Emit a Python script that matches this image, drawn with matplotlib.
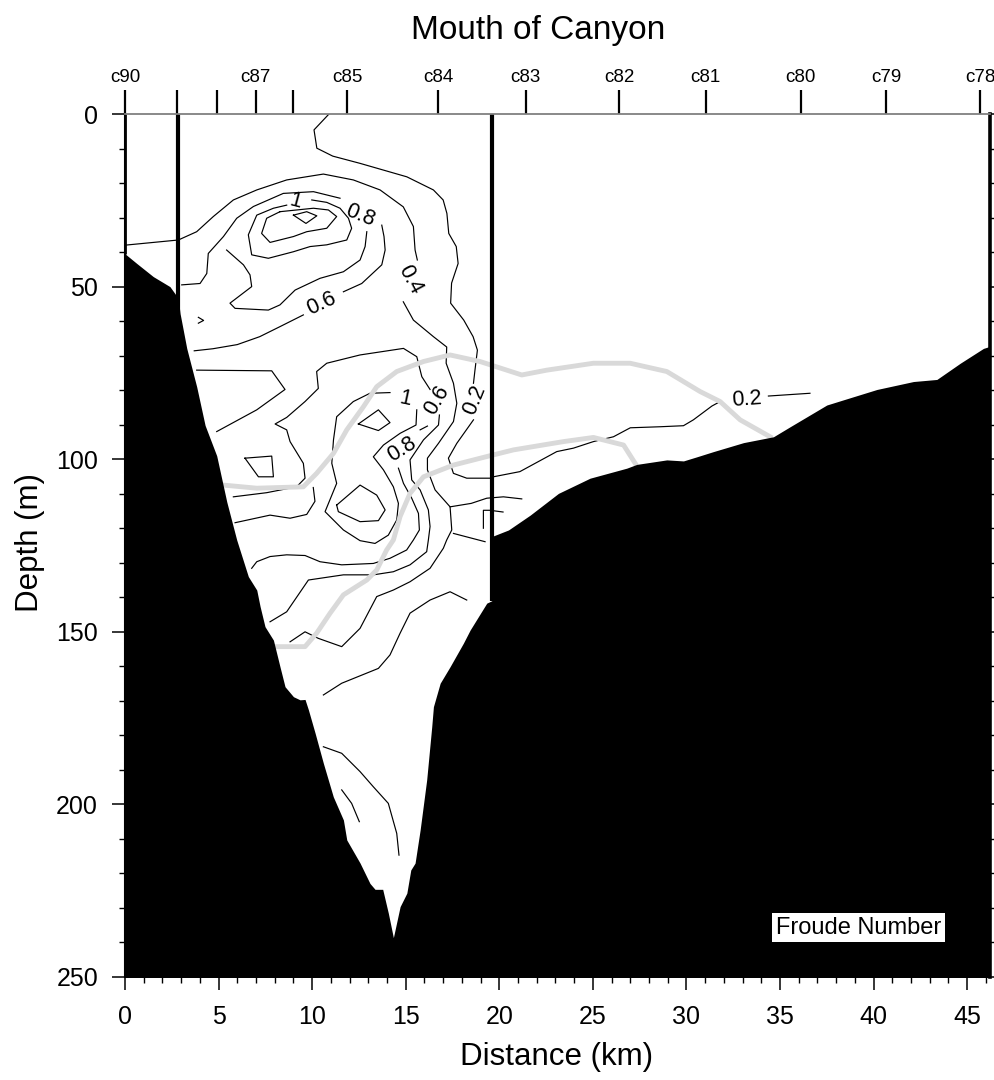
import numpy as np
import matplotlib
matplotlib.use("Agg")
import matplotlib.pyplot as plt

plt.rcParams['font.family'] = ['Liberation Sans', 'DejaVu Sans']

nan = np.nan

# bathymetry (distance km, depth m)
bathy_x = [0, 0.63, 1.51, 2.4, 2.85, 2.94, 3.3, 3.83, 4.28, 4.9, 5.44, 5.97, 6.59, 7.04, 7.22, 7.48,
           7.93, 8.28, 8.55, 9.0, 9.35, 9.62, 9.8, 10.16, 10.6, 11.13, 11.67, 11.85, 12.56, 13.09,
           13.36, 13.77, 14.07, 14.34, 14.7, 15.06, 15.27, 15.5, 15.77, 16.12, 16.39, 16.48, 16.84,
           17.37, 18.08, 18.44, 19.33, 19.6, 19.6, 20.49, 21.65, 23.16, 24.85, 26.81, 27.35, 28.95,
           29.84, 30.56, 31.44, 33.05, 34.65, 35.54, 37.5, 38.39, 40.18, 42.13, 43.38, 44.63, 45.87, 46.4]
bathy_d = [40.5, 43.3, 47.1, 50, 53.4, 57.7, 67.9, 79, 90.2, 99, 112.4, 123.4, 134, 137.9, 142.7, 148.5,
           152.4, 160.1, 165.9, 168.8, 169.7, 169.6, 172.6, 179.4, 188.1, 197.8, 204.5, 210.3, 217, 222.9,
           224.6, 224.6, 231.5, 238.6, 229.6, 225.7, 219, 217, 207.4, 192.9, 177.5, 171.7, 164.9,
           160.1, 153.3, 149.5, 141.7, 141, 122.4, 120.5, 116.2, 109.9, 105.5, 102.6, 101.5, 100.2,
           100.5, 99.3, 97.8, 95.2, 93.5, 90.6, 84.3, 82.8, 79.8, 77.5, 76.9, 72.2, 67.9, 67]

# stations along the top
station_x = [0, 2.8, 4.93, 6.99, 9.0, 11.88, 16.74, 21.41, 26.42, 31.03, 36.1, 40.68, 45.7]
station_lbl = ['c90', '', '', 'c87', '', 'c85', 'c84', 'c83', 'c82', 'c81', 'c80', 'c79', 'c78']

# vertical cast lines (x, bottom depth)
cast_x = [2.85, 19.6]
cast_bottom = [58, 141]

# Froude number contour traces (nan = gap for label)
c02_x = [10.9, 10.1, 10.25, 11.1, 12.56, 15.06, 16.48, 17.0, 17.2, 17.3, 17.7, 17.8, 17.45, 17.4, 18.1,
         18.6, 18.83, 18.7, 18.62, nan, 18.62, 17.73, 17.28, 17.55, 18.26, 19.5, 19.68, 21.1, 23.07,
         23.96, 25.03, 26.1, 27.0, 28.59, 29.84, 30.37, 31.36, 31.8, nan, 34.38, 36.6]
c02_d = [0, 4.6, 9.9, 12.2, 14.3, 18.2, 22, 24.9, 28.8, 34.6, 38.4, 43.3, 49, 54.8, 59.7,
         64.5, 68.4, 74.2, 78, nan, 88.6, 95.4, 99.7, 104.1, 105.5, 105.5, 105.1, 103.6, 97.8,
         96.8, 94.9, 93.5, 90.9, 90.6, 90.3, 88.6, 84.6, 83.3, nan, 81.7, 80.9]

c04_x = [0, 2.85, 3.83, 4.72, 5.79, 7.04, 8.64, 10.6, 12.2, 13.63, 14.87, 15.41, 15.5, 15.62, nan,
         14.87, 15.41, 16.48, 17.19, 17.16, 17.55, 17.73, 17.55, 16.75, 16.16, 16.16, 16.57, 17.37,
         17.46, 17.19, 17.01, 16.3, 15.23, 14.34, 13.45, 12.56, 11.58, 10.33, 9.62, 8.82]
c04_d = [38, 36.5, 34.1, 29.7, 24.9, 22, 19.1, 17.4, 19.1, 22, 26.9, 32.6, 39.4, 42.3, nan,
         54.4, 59.7, 64.5, 67.5, 72.2, 78, 83.8, 89.1, 95.4, 99.7, 103.1, 108.9, 113.8,
         120.5, 123.4, 125.8, 131.6, 135.5, 137.9, 139.8, 149, 154.3, 151.9, 150, 152.9]

c06_x = [3.03, 4.01, 4.37, 4.45, 5.26, 5.97, 6.86, 8.46, 10.07, 11.49, nan, 13.72, 13.84, 13.9, 13.72,
         12.65, 11.67, nan, 9.53, 8.28, 7.2, 6.0, 4.7, 3.7]
c06_d = [49.5, 49.1, 46.2, 40.4, 35.5, 30.2, 26.8, 23.0, 22.5, 24.4, nan, 32.2, 35.5, 39.4, 43.7,
         49.1, 51.5, nan, 58.2, 61.6, 64.5, 66.8, 68.0, 68.6]

c08_x = [12.92, 12.83, 12.56, 11.67, 10.42, 9.09, 8.28, 7.66, 5.88, 5.61, 6.77, 6.68, 6.33, 5.43]
c08_d = [34.1, 38.4, 42.3, 45.7, 47.6, 51.0, 55.3, 56.8, 56.3, 54.8, 50.0, 46.6, 43.7, 39.4]

c10_x = [9.98, 10.78, 11.49, 11.94, 12.11, 11.85, 10.78, 9.89, 9.0, 7.66, 6.77, 6.59, 7.04, 7.93, 8.64]
c10_d = [24.9, 25.6, 27.3, 30.2, 33.1, 36.5, 37.9, 38.4, 39.9, 41.8, 40.8, 35.0, 29.3, 27.3, 26.4]

c12_x = [8.28, 7.57, 7.30, 7.75, 9.0, 9.71, 10.78, 11.31, 10.87, 10.07, 8.28]
c12_d = [28.3, 30.2, 34.6, 37.2, 35.5, 34.1, 33.1, 29.7, 27.8, 27.3, 28.3]

c14_x = [9.0, 9.71, 10.25, 9.67, 9.0]
c14_d = [29.3, 28.3, 29.5, 31.7, 29.3]

tick_x = [3.92, 4.2, 3.92]
tick_d = [58.9, 59.8, 60.6]

m2_x = [3.83, 7.84, 8.55, 7.04, 4.9]
m2_d = [74.2, 74.4, 79.8, 85.7, 92.0]

loop_x = [6.41, 7.84, 7.93, 7.13, 6.41]
loop_d = [99.7, 99.1, 105.1, 105.1, 99.7]

p1_x = [5.79, 7.57, 9.17, 9.62, 9.53, 8.82, 8.64, 8.02, 8.64, 9.62, 10.33, 10.24, 10.78, 12.56, 14.88,
        15.59, 15.86, 16.3, nan, 16.8, 16.75, 15.95, 15.23, 15.32, 15.77, 16.21, 16.3, 16.21,
        16.12, 15.23, 14.34, 13.27, 11.67, 9.8, 8.64, 7.75]
p1_d = [110.9, 109.7, 108.0, 105.5, 101.2, 94.9, 91.5, 89.8, 87.9, 83.3, 79.5, 74.6, 72.2, 69.8, 67.9,
        70.3, 76.1, 79.8, nan, 87.2, 90.1, 94.4, 100.2, 106.0, 108.9, 114.7, 119.5, 123.4,
        126.8, 130.6, 132.6, 133.5, 133.5, 135, 144.2, 147.1]

m4_x = [5.88, 7.75, 8.82, 9.71, 10.15, 10.06]
m4_d = [118.4, 116.2, 117.1, 116.0, 112.2, 108.2]

r1_x = [15.59, 15.55, 14.7, 13.81, 13.27, 13.81, 14.34, 14.61, 14.52, 14.07, 13.36, 12.56, 11.67,
        10.69, 11.31, 11.05, 11.14, 11.31, 12.2, 13.09, 14.16]
r1_d = [85.7, 90.1, 92.5, 95.9, 99.3, 103.1, 108.0, 112.8, 117.6, 122.0, 124.4, 123.6, 120.5,
        115.2, 107.0, 101.2, 94.4, 87.7, 83.3, 80.9, 80.7]

d2_x = [12.47, 13.54, 14.16, 13.54, 12.47]
d2_d = [89.8, 85.7, 89.4, 91.7, 89.8]

b2_x = [11.31, 12.56, 13.45, 13.9, 13.54, 12.56, 11.4, 11.31]
b2_d = [113.3, 107.5, 110.4, 114.7, 117.8, 118.1, 115.2, 113.3]

la_x = [16.16, 15.77, nan, 14.61, 14.88, 15.32, 15.68, 15.73, 15.41, 15.05, 14.16, 13.27, 11.58,
        10.42, 9.62, 8.64, 7.75, 7.04, 6.77]
la_d = [90.4, 91.5, nan, 102.6, 107.0, 111.3, 115.7, 120.5, 123.4, 126.3, 128.7, 130.2, 130.6,
        129.7, 127.9, 127.7, 128.2, 129.7, 131.6]

br1_x = [17.37, 18.5, 19.33, 20.22, 21.2]
br1_d = [113.8, 112.8, 111.3, 110.9, 111.5]
br2_x = [17.55, 19.24]
br2_d = [121.5, 123.9]
brk_x = [20.2, 19.5, 19.15, 19.15]
brk_d = [115.3, 114.8, 114.8, 120.0]

ld_x = [10.6, 11.58, 13.54, 14.16, 14.7, 15.23, 16.3, 17.37, 18.26]
ld_d = [168.3, 164.9, 160.6, 156.7, 150.4, 144.6, 140.8, 138.4, 140.8]
le_x = [10.6, 11.58, 12.56, 13.27, 14.07, 14.52, 14.64]
le_d = [183.3, 185.2, 190.5, 194.9, 199.7, 208.4, 214.7]
lf_x = [11.58, 12.11, 12.52]
lf_d = [195.8, 199.7, 205.0]

contours = [(c02_x, c02_d), (c04_x, c04_d), (c06_x, c06_d), (c08_x, c08_d), (c10_x, c10_d),
            (c12_x, c12_d), (c14_x, c14_d), (tick_x, tick_d), (m2_x, m2_d), (loop_x, loop_d),
            (p1_x, p1_d), (m4_x, m4_d), (r1_x, r1_d), (d2_x, d2_d), (b2_x, b2_d), (la_x, la_d),
            (br1_x, br1_d), (br2_x, br2_d), (brk_x, brk_d), (ld_x, ld_d), (le_x, le_d), (lf_x, lf_d)]

# contour labels: text, x, depth, rotation
lbl_txt = ['1', '0.8', '0.6', '0.4', '0.2', '0.6', '1', '0.8', '0.2']
lbl_x = [9.09, 12.56, 10.51, 15.23, 18.7, 16.66, 14.97, 14.79, 33.23]
lbl_d = [25.4, 29.3, 54.8, 48.1, 82.9, 82.9, 82.4, 97.3, 82.6]
lbl_rot = [-15, -22, 25, -62, 68, 60, -12, 32, 4]

# grey overlay lines
g1_x = [5.26, 7.04, 9.53, 10.24, 11.14, 11.85, 12.74, 13.45, 14.52, 15.95, 17.37, 18.97, 21.2, 22.54,
        25.03, 26.99, 28.95, 30.73, 31.8, 32.87, 34.47]
g1_d = [107.5, 108.4, 108.0, 104.1, 98.3, 91.5, 84.8, 79.0, 74.6, 71.7, 69.8, 71.7, 75.6, 74.2,
        72.2, 72.2, 74.6, 80.4, 83.3, 88.6, 93.5]
g2_x = [7.84, 9.62, 10.24, 10.96, 11.67, 12.92, 13.45, 13.98, 14.34, 14.7, 15.23, 15.95, 17.55, 19.5,
        20.76, 23.43, 25.03, 26.64, 27.26]
g2_d = [154.3, 154.3, 150.4, 144.6, 139.3, 135, 132.1, 126.3, 123.4, 116.6, 109.9, 105.1, 101.7, 99.0,
        97.3, 94.9, 93.7, 95.9, 101.2]

fig = plt.figure(figsize=(9.95, 10.8), dpi=100)
ax = fig.add_axes([125 / 995, 1 - 977 / 1080, 865 / 995, 863 / 1080])

for cx, cd in contours:
    ax.plot(cx, cd, color='black', lw=0.85, zorder=2)

for t, x, d, r in zip(lbl_txt, lbl_x, lbl_d, lbl_rot):
    ax.text(x, d, t, fontsize=15.5, rotation=r, ha='center', va='center', zorder=3)

ax.plot(g1_x, g1_d, color='#d9d9d9', lw=3.5, solid_joinstyle='round', zorder=4)
ax.plot(g2_x, g2_d, color='#d9d9d9', lw=3.5, solid_joinstyle='round', zorder=4)

ax.fill_between(bathy_x, bathy_d, 260, color='black', lw=0, zorder=5)

for x, b in zip(cast_x, cast_bottom):
    ax.plot([x, x], [0, b], color='black', lw=3, solid_capstyle='butt', zorder=6)
ax.plot([0, 0], [0, 40.5], color='black', lw=2, solid_capstyle='butt', zorder=6)

ax.set_xlim(0, 46.22)
ax.set_ylim(250, 0)
ax.set_xticks(np.arange(0, 46, 5))
ax.set_xticks(np.arange(0, 47, 1), minor=True)
ax.set_yticks(np.arange(0, 251, 50))
ax.set_yticks(np.arange(0, 251, 10), minor=True)
ax.tick_params(which='major', direction='out', length=9.4, width=1.1, labelsize=18,
               right=True, top=False)
ax.tick_params(axis='x', which='major', pad=11)
ax.tick_params(axis='y', which='major', pad=10)
ax.tick_params(which='minor', direction='out', length=4.5, width=1.0, right=True, top=False)

ax.spines['left'].set_linewidth(1.5)
ax.spines['right'].set_linewidth(2.6)
ax.spines['bottom'].set_linewidth(1.2)
ax.spines['top'].set_visible(False)

ax2 = ax.twiny()
ax2.set_xlim(ax.get_xlim())
ax2.set_xticks(station_x)
ax2.set_xticklabels(station_lbl)
ax2.tick_params(axis='x', direction='out', length=17, width=1.6, labelsize=13.5, pad=3)
ax2.spines['top'].set_color('#808080')
ax2.spines['top'].set_linewidth(1.3)
for s in ['left', 'right', 'bottom']:
    ax2.spines[s].set_visible(False)

ax.text(0.848, 0.057, 'Froude Number', transform=ax.transAxes, fontsize=17, ha='center',
        va='center', zorder=8, bbox=dict(facecolor='white', edgecolor='none', pad=2.5))

fig.text(538 / 995, 1 - 30 / 1080, 'Mouth of Canyon', fontsize=24, ha='center', va='center')
fig.text(557 / 995, 1 - 1057 / 1080, 'Distance (km)', fontsize=22.5, ha='center', va='center')
fig.text(30 / 995, 1 - 543 / 1080, 'Depth (m)', fontsize=22.5, ha='center', va='center', rotation=90)

fig.savefig('out.png', dpi=100)
